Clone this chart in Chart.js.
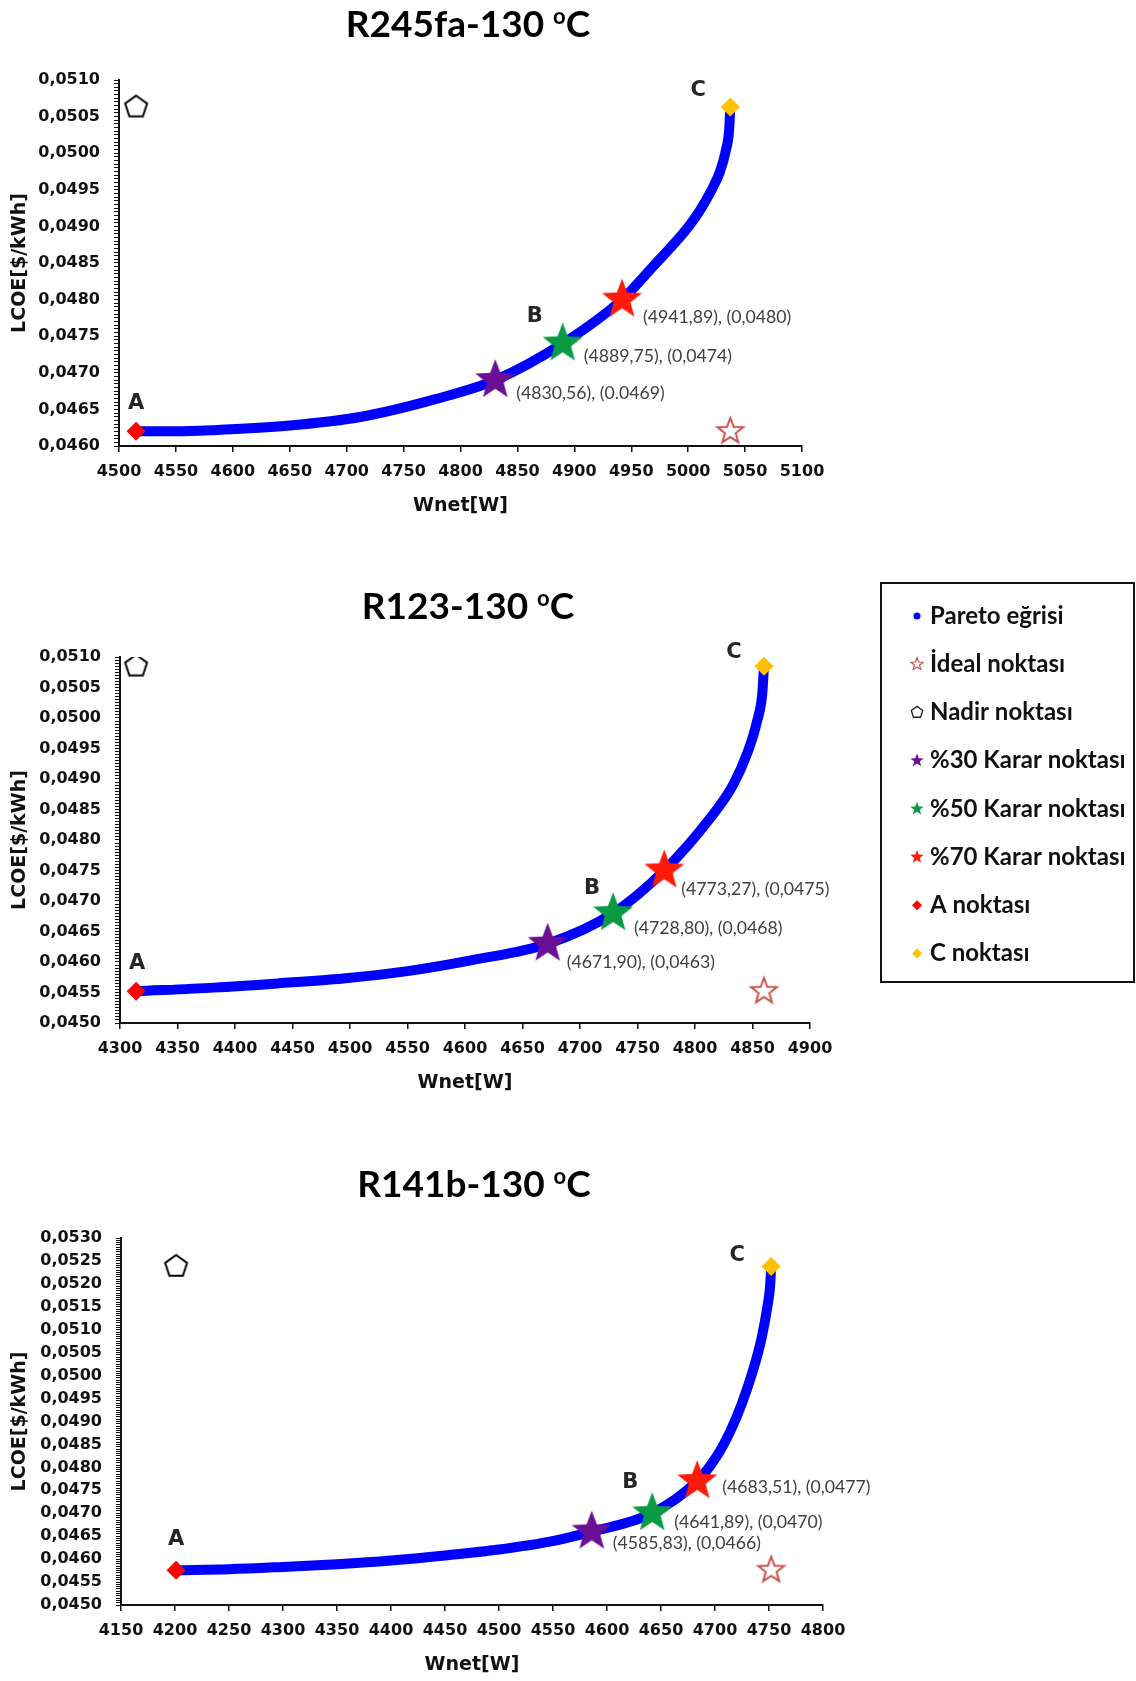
<!DOCTYPE html>
<html>
<head>
<meta charset="utf-8">
<script src="https://cdn.jsdelivr.net/npm/chart.js@4.4.1/dist/chart.umd.min.js"></script>
<style>
  html, body { margin: 0; padding: 0; background: #fff; }
  #page { position: relative; width: 1136px; height: 1681px; overflow: hidden; }
  #page canvas { position: absolute; left: 0; }
</style>
</head>
<body>
<div id="page">
  <canvas id="c0" width="1136" height="560" style="top:0px"></canvas>
  <canvas id="c1" width="1136" height="560" style="top:560px"></canvas>
  <canvas id="c2" width="1136" height="561" style="top:1120px"></canvas>
</div>
<script>
// ---- data ----
const TITLES = ['R245fa-130', 'R123-130', 'R141b-130'];

// Pareto egrisi (Wnet [W], LCOE [$/kWh])
const R245FA_W    = [4515, 4550, 4586, 4650, 4713, 4778, 4830.56, 4889.75, 4941.89, 4969, 5000, 5010, 5020, 5028, 5033, 5036, 5037];
const R245FA_LCOE = [0.04620, 0.04620, 0.04622, 0.04628, 0.04640, 0.04664, 0.0469, 0.0474, 0.0480, 0.04845, 0.04899, 0.04921, 0.04948, 0.04975, 0.05003, 0.05032, 0.05063];

const R123_W    = [4314, 4382, 4438, 4494, 4550, 4606, 4671.90, 4728.80, 4773.27, 4812, 4833, 4846, 4854, 4858.5, 4860];
const R123_LCOE = [0.04552, 0.04558, 0.04565, 0.04573, 0.04585, 0.04603, 0.0463, 0.0468, 0.0475, 0.04833, 0.04890, 0.04945, 0.04995, 0.05040, 0.05085];

const R141B_W    = [4201, 4250, 4300, 4350, 4400, 4450, 4500, 4547, 4585.83, 4641.89, 4683.51, 4701, 4714, 4725, 4735, 4743, 4748.5, 4751, 4752];
const R141B_LCOE = [0.04576, 0.04578, 0.04583, 0.04589, 0.04597, 0.04608, 0.04621, 0.04638, 0.0466, 0.0470, 0.0477, 0.04822, 0.04878, 0.04940, 0.05010, 0.05080, 0.05150, 0.05195, 0.05238];

// %30, %50, %70 karar noktalari
const R245FA_DEC_W = [4830.56, 4889.75, 4941.89];
const R245FA_DEC_L = [0.0469, 0.0474, 0.0480];
const R245FA_DEC_TEXT = ['(4830,56), (0.0469)', '(4889,75), (0,0474)', '(4941,89), (0,0480)'];

const R123_DEC_W = [4671.90, 4728.80, 4773.27];
const R123_DEC_L = [0.0463, 0.0468, 0.0475];
const R123_DEC_TEXT = ['(4671,90), (0,0463)', '(4728,80), (0,0468)', '(4773,27), (0,0475)'];

const R141B_DEC_W = [4585.83, 4641.89, 4683.51];
const R141B_DEC_L = [0.0466, 0.0470, 0.0477];
const R141B_DEC_TEXT = ['(4585,83), (0,0466)', '(4641,89), (0,0470)', '(4683,51), (0,0477)'];

// axes
const X_MIN = [4500, 4300, 4150];
const X_MAX = [5100, 4900, 4800];
const X_STEP = 50;
const Y_MIN = [0.0460, 0.0450, 0.0450];
const Y_MAX = [0.0510, 0.0510, 0.0530];
const Y_MAJOR = 0.0005;
const Y_MINOR = 0.00005;

const LEGEND_LABELS = ['Pareto eğrisi', 'İdeal noktası', 'Nadir noktası', '%30 Karar noktası',
  '%50 Karar noktası', '%70 Karar noktası', 'A noktası', 'C noktası'];

const CURVES = [
  { w: R245FA_W, l: R245FA_LCOE, dw: R245FA_DEC_W, dl: R245FA_DEC_L, dt: R245FA_DEC_TEXT },
  { w: R123_W, l: R123_LCOE, dw: R123_DEC_W, dl: R123_DEC_L, dt: R123_DEC_TEXT },
  { w: R141B_W, l: R141B_LCOE, dw: R141B_DEC_W, dl: R141B_DEC_L, dt: R141B_DEC_TEXT },
];

// ---- layout (page px) ----
const X_AXIS_H = 71;
const LAYOUT = [
  { top: 0,    height: 560, left: 119, right: 802, plotTop: 80,   plotBottom: 446,  titleX: 468, titleY: 24,
    a: [0, -28], b: [-28, -27], c: [-32, -17], lab: [[21, 13], [21, 13], [21, 18]] },
  { top: 560,  height: 560, left: 120, right: 810, plotTop: 657,  plotBottom: 1023, titleX: 468, titleY: 46,
    a: [1, -28], b: [-21, -25], c: [-30, -14], lab: [[19, 19], [21, 15], [17, 19]] },
  { top: 1120, height: 561, left: 121, right: 823, plotTop: 1238, plotBottom: 1605, titleX: 474, titleY: 64,
    a: [0, -31], b: [-22, -31], c: [-34, -11], lab: [[21, 12], [22, 9], [25, 6]] },
];

const COL = {
  blue: '#0000FF', purple: '#6A0E95', green: '#0B9A44', red: '#FF1A0A',
  aRed: '#FF0000', cGold: '#FFC000', ideal: '#C9514E', ink: '#000000',
};

function shapePath(ctx, kind, x, y, r) {
  ctx.beginPath();
  if (kind === 'star') {
    for (let i = 0; i < 10; i++) {
      const rr = i % 2 ? r * 0.42 : r;
      const a = -Math.PI / 2 + i * Math.PI / 5;
      ctx.lineTo(x + rr * Math.cos(a), y + rr * Math.sin(a));
    }
  } else if (kind === 'pentagon') {
    for (let i = 0; i < 5; i++) {
      const a = -Math.PI / 2 + i * 2 * Math.PI / 5;
      ctx.lineTo(x + r * Math.cos(a), y + r * Math.sin(a));
    }
  } else if (kind === 'diamond') {
    ctx.moveTo(x, y - r); ctx.lineTo(x + r, y); ctx.lineTo(x, y + r); ctx.lineTo(x - r, y);
  } else {
    ctx.arc(x, y, r, 0, Math.PI * 2);
  }
  ctx.closePath();
}

function paintShape(ctx, kind, x, y, r, fill, stroke, lw) {
  shapePath(ctx, kind, x, y, r);
  if (fill) { ctx.fillStyle = fill; ctx.fill(); }
  if (stroke) { ctx.lineWidth = lw; ctx.strokeStyle = stroke; ctx.lineJoin = 'miter'; ctx.stroke(); }
}

function markerImage(kind, r, fill, stroke, lw) {
  const c = document.createElement('canvas');
  const s = Math.ceil(2 * r + (lw || 0) + 4);
  c.width = c.height = s;
  paintShape(c.getContext('2d'), kind, s / 2, s / 2, r, fill, stroke, lw);
  return c;
}

const STAR_PURPLE = markerImage('star', 21, COL.purple);
const STAR_GREEN = markerImage('star', 21, COL.green);
const STAR_RED = markerImage('star', 21, COL.red);
const STAR_IDEAL = markerImage('star', 13.5, '#ffffff', COL.ideal, 2);
const PENTAGON = markerImage('pentagon', 11.5, '#ffffff', '#000000', 2);

// legend entries: [shape, radius, fill, stroke, lineWidth]
const LEGEND_MARKS = [
  ['circle', 3.5, COL.blue],
  ['star', 6.5, '#ffffff', COL.ideal, 1.2],
  ['pentagon', 6, '#ffffff', '#222222', 1.3],
  ['star', 7, COL.purple],
  ['star', 7, COL.green],
  ['star', 7, COL.red],
  ['diamond', 5, COL.aRed],
  ['diamond', 5, COL.cGold],
];

const annotate = {
  id: 'annotate',
  afterDatasetsDraw(chart, args, o) {
    const ctx = chart.ctx;
    const L = LAYOUT[o.idx];
    const pt = i => chart.getDatasetMeta(i).data[0];
    ctx.save();

    // title with superscript o
    const big = 'bold 37px Lato', small = 'bold 22px Lato';
    ctx.textAlign = 'left';
    ctx.textBaseline = 'alphabetic';
    ctx.fillStyle = '#000';
    ctx.font = big;
    const w1 = ctx.measureText(TITLES[o.idx] + ' ').width;
    const w3 = ctx.measureText('C').width;
    ctx.font = small;
    const w2 = ctx.measureText('o').width;
    let x = L.titleX - (w1 + w2 + w3) / 2;
    const base = L.titleY + 13;
    ctx.font = big; ctx.fillText(TITLES[o.idx] + ' ', x, base); x += w1;
    ctx.font = small; ctx.fillText('o', x, base - 13); x += w2;
    ctx.font = big; ctx.fillText('C', x, base);

    // decision point labels
    ctx.font = '17.7px Lato';
    ctx.fillStyle = '#404040';
    ctx.textBaseline = 'middle';
    for (let k = 0; k < 3; k++) {
      const p = pt(k);
      ctx.fillText(CURVES[o.idx].dt[k], p.x + L.lab[k][0], p.y + L.lab[k][1]);
    }

    // A, B, C letters
    ctx.font = 'bold 21px "DejaVu Sans"';
    ctx.fillStyle = '#262626';
    ctx.textAlign = 'center';
    const pa = pt(3), pb = pt(1), pc = pt(4);
    ctx.fillText('A', pa.x + L.a[0], pa.y + L.a[1]);
    ctx.fillText('B', pb.x + L.b[0], pb.y + L.b[1]);
    ctx.fillText('C', pc.x + L.c[0], pc.y + L.c[1]);

    // shared legend box (beside the middle chart)
    if (o.legend) {
      ctx.lineWidth = 2;
      ctx.strokeStyle = '#111';
      ctx.strokeRect(881, 23, 253, 399);
      ctx.font = 'bold 24px Lato';
      ctx.textAlign = 'left';
      LEGEND_LABELS.forEach((label, i) => {
        const y = 56 + i * 48.2;
        const m = LEGEND_MARKS[i];
        paintShape(ctx, m[0], 917, y, m[1], m[2], m[3], m[4]);
        ctx.fillStyle = '#111';
        ctx.fillText(label, 930, y);
      });
    }
    ctx.restore();
  }
};

function yLabel(v) {
  const k = Math.round(v / Y_MAJOR);
  return Math.abs(k * Y_MAJOR - v) < 1e-9 ? (k * Y_MAJOR).toFixed(4).replace('.', ',') : '';
}

function makeChart(i) {
  const L = LAYOUT[i];
  const c = CURVES[i];
  const one = (w, l) => [{ x: w, y: l }];
  const aW = c.w[0], aL = c.l[0];
  const cW = c.w[c.w.length - 1], cL = c.l[c.l.length - 1];
  const tickFont = { family: 'DejaVu Sans', size: 16, weight: 'bold' };
  const titleFont = { family: 'DejaVu Sans', size: 19, weight: 'bold' };

  return new Chart(document.getElementById('c' + i), {
    type: 'scatter',
    data: {
      datasets: [
        { label: LEGEND_LABELS[3], data: one(c.dw[0], c.dl[0]), pointStyle: STAR_PURPLE },
        { label: LEGEND_LABELS[4], data: one(c.dw[1], c.dl[1]), pointStyle: STAR_GREEN },
        { label: LEGEND_LABELS[5], data: one(c.dw[2], c.dl[2]), pointStyle: STAR_RED },
        { label: LEGEND_LABELS[6], data: one(aW, aL), pointStyle: 'rectRot', pointRadius: 9.5,
          backgroundColor: COL.aRed, borderColor: COL.aRed, borderWidth: 0 },
        { label: LEGEND_LABELS[7], data: one(cW, cL), pointStyle: 'rectRot', pointRadius: 9.5,
          backgroundColor: COL.cGold, borderColor: COL.cGold, borderWidth: 0 },
        { label: LEGEND_LABELS[1], data: one(cW, aL), pointStyle: STAR_IDEAL },
        { label: LEGEND_LABELS[2], data: one(aW, cL), pointStyle: PENTAGON },
        { label: LEGEND_LABELS[0], data: c.w.map((w, k) => ({ x: w, y: c.l[k] })),
          showLine: true, borderColor: COL.blue, borderWidth: 10, pointRadius: 0,
          cubicInterpolationMode: 'monotone', borderCapStyle: 'round', borderJoinStyle: 'round' },
      ]
    },
    options: {
      responsive: false,
      animation: false,
      devicePixelRatio: 1,
      events: [],
      layout: {
        padding: {
          left: 0,
          top: L.plotTop - L.top,
          right: 1136 - L.right,
          bottom: L.top + L.height - L.plotBottom - X_AXIS_H,
        }
      },
      plugins: {
        legend: { display: false },
        tooltip: { enabled: false },
        annotate: { idx: i, legend: i === 1 },
      },
      scales: {
        x: {
          type: 'linear', position: 'bottom', min: X_MIN[i], max: X_MAX[i],
          afterFit: s => { s.height = X_AXIS_H; },
          ticks: { stepSize: X_STEP, autoSkip: false, maxRotation: 0, padding: 10, color: '#111',
                   font: tickFont, callback: v => String(v) },
          grid: { drawOnChartArea: false, drawTicks: true, tickLength: 6, color: '#111', lineWidth: 1.5 },
          border: { display: true, color: '#111', width: 2 },
          title: { display: true, text: 'Wnet[W]', color: '#111', font: titleFont, padding: { top: 0, bottom: 0 } },
        },
        y: {
          type: 'linear', position: 'left', min: Y_MIN[i], max: Y_MAX[i],
          afterFit: s => { s.width = L.left; },
          ticks: { stepSize: Y_MINOR, autoSkip: false, padding: 14, color: '#111', font: tickFont,
                   callback: yLabel },
          grid: { drawOnChartArea: false, drawTicks: true, tickLength: 5, color: '#111', lineWidth: 1 },
          border: { display: true, color: '#111', width: 2 },
          title: { display: true, text: 'LCOE[$/kWh]', color: '#111', font: titleFont, padding: { top: 9, bottom: 0 } },
        }
      }
    },
    plugins: [annotate]
  });
}

[0, 1, 2].forEach(makeChart);
</script>
</body>
</html>
